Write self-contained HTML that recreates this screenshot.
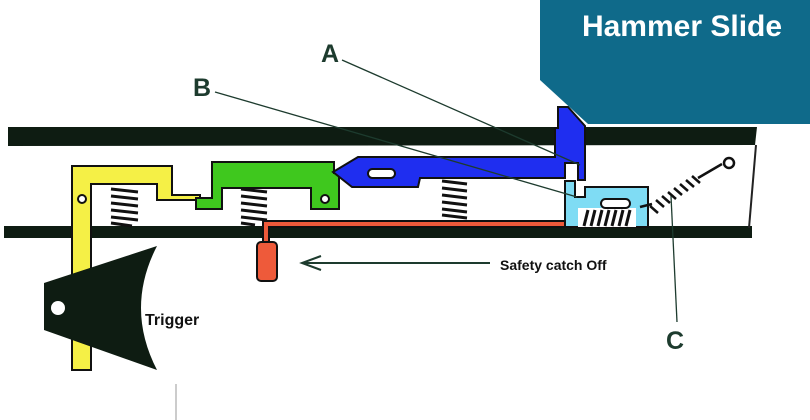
<!DOCTYPE html>
<html><head><meta charset="utf-8"><style>
html,body{margin:0;padding:0;background:#fff;width:810px;height:420px;overflow:hidden}
svg{display:block}
text{font-family:"Liberation Sans",Arial,sans-serif;font-weight:bold}
</style></head><body>
<svg width="810" height="420" viewBox="0 0 810 420" xmlns="http://www.w3.org/2000/svg">
<polygon points="540,0 810,0 810,124 588,124 540,80" fill="#0f6a8a"/>
<text x="682" y="36" font-size="30" fill="#fff" text-anchor="middle">Hammer Slide</text>
<polygon points="8,127 757,127 755,145 8,146" fill="#0e1c12"/>
<polygon points="4,226 752,226 752,238 4,238" fill="#0e1c12"/>
<line x1="756" y1="145" x2="749" y2="228" stroke="#222" stroke-width="2"/>
<g stroke="#111" stroke-width="3">
<line x1="111" y1="189" x2="138" y2="192"/><line x1="111" y1="196" x2="138" y2="199"/><line x1="111" y1="203" x2="138" y2="206"/><line x1="111" y1="210" x2="138" y2="213"/><line x1="111" y1="217" x2="138" y2="220"/><line x1="111" y1="223" x2="132" y2="226"/>
<line x1="241" y1="189" x2="267" y2="192"/><line x1="241" y1="196" x2="267" y2="199"/><line x1="241" y1="203" x2="267" y2="206"/><line x1="241" y1="210" x2="267" y2="213"/><line x1="241" y1="217" x2="267" y2="220"/><line x1="241" y1="223" x2="255" y2="225"/>
<line x1="442" y1="181" x2="467" y2="184"/><line x1="442" y1="188" x2="467" y2="191"/><line x1="442" y1="195" x2="467" y2="198"/><line x1="442" y1="202" x2="467" y2="205"/><line x1="442" y1="209" x2="467" y2="212"/><line x1="442" y1="215" x2="467" y2="218"/>
</g>
<polygon points="72,166 172,166 172,195 200,195 200,200 157,200 157,184 91,184 91,370 72,370" fill="#f5f046" stroke="#111" stroke-width="2"/>
<circle cx="82" cy="199" r="4" fill="#fff" stroke="#111" stroke-width="2"/>
<polygon points="212,162 334,162 334,173 339,173 339,209 311,209 311,188 222,188 222,209 196,209 196,198 212,198" fill="#3fc81e" stroke="#111" stroke-width="2"/>
<circle cx="325" cy="199" r="4" fill="#fff" stroke="#111" stroke-width="2"/>
<polygon points="333,172 358,157 555,157 555,128 558,128 558,107 568,107 585,126 585,180 578,180 578,163 565,163 565,178 420,178 418,187 352,187" fill="#1f2ef0" stroke="#111" stroke-width="2"/>
<rect x="368" y="169" width="27" height="9" rx="4.5" fill="#fff" stroke="#111" stroke-width="2"/>
<polyline points="266,241 266,224 576,224 576,214" fill="none" stroke="#111" stroke-width="8"/>
<polyline points="266,241 266,224 576,224 576,214" fill="none" stroke="#ee5a3a" stroke-width="4"/>
<rect x="257" y="242" width="20" height="39" rx="4" fill="#ee5a3a" stroke="#111" stroke-width="2"/>
<polygon points="565,181 575,181 575,197 585,197 585,187 648,187 648,227 565,227" fill="#7fdcf4" stroke="#111" stroke-width="2"/>
<rect x="578" y="208" width="58" height="19" fill="#fff"/>
<g stroke="#111" stroke-width="3">
<line x1="584" y1="226" x2="588" y2="210"/><line x1="591" y1="226" x2="595" y2="210"/><line x1="598" y1="226" x2="602" y2="210"/><line x1="605" y1="226" x2="609" y2="210"/><line x1="612" y1="226" x2="616" y2="210"/><line x1="619" y1="226" x2="623" y2="210"/><line x1="626" y1="226" x2="630" y2="210"/>
</g>
<rect x="601" y="199" width="29" height="9" rx="4.5" fill="#fff" stroke="#111" stroke-width="2"/>
<g stroke="#111" stroke-width="2.5">
<line x1="640" y1="207" x2="652" y2="204"/>
<line x1="650" y1="206" x2="658" y2="213"/><line x1="656" y1="200" x2="664" y2="207"/><line x1="662" y1="196" x2="670" y2="203"/><line x1="668" y1="192" x2="676" y2="199"/><line x1="674" y1="188" x2="682" y2="195"/><line x1="680" y1="184" x2="688" y2="191"/><line x1="686" y1="180" x2="694" y2="187"/><line x1="692" y1="176" x2="700" y2="183"/>
<line x1="698" y1="178" x2="722" y2="164"/>
</g>
<circle cx="729" cy="163" r="5" fill="none" stroke="#111" stroke-width="2.5"/>
<path d="M44,283 L157,246 Q125,308 157,370 L44,330 Z" fill="#0e1c12"/>
<circle cx="58" cy="308" r="7" fill="#fff"/>
<text x="145" y="325" font-size="16" fill="#111">Trigger</text>
<g stroke="#1d3b2e" stroke-width="1.3" fill="none">
<line x1="342" y1="60" x2="580" y2="165"/>
<line x1="215" y1="92" x2="577" y2="197"/>
<line x1="671" y1="196" x2="677" y2="322"/>
<line x1="302" y1="263" x2="490" y2="263" stroke-width="2"/>
<polyline points="321,256 302,263 321,270" stroke-width="2"/>
</g>
<text x="321" y="62" font-size="25" fill="#1d3b2e">A</text>
<text x="193" y="96" font-size="25" fill="#1d3b2e">B</text>
<text x="666" y="349" font-size="25" fill="#1d3b2e">C</text>
<text x="500" y="270" font-size="14" fill="#111">Safety catch Off</text>
<line x1="176" y1="384" x2="176" y2="420" stroke="#999" stroke-width="1"/>
</svg>
</body></html>
